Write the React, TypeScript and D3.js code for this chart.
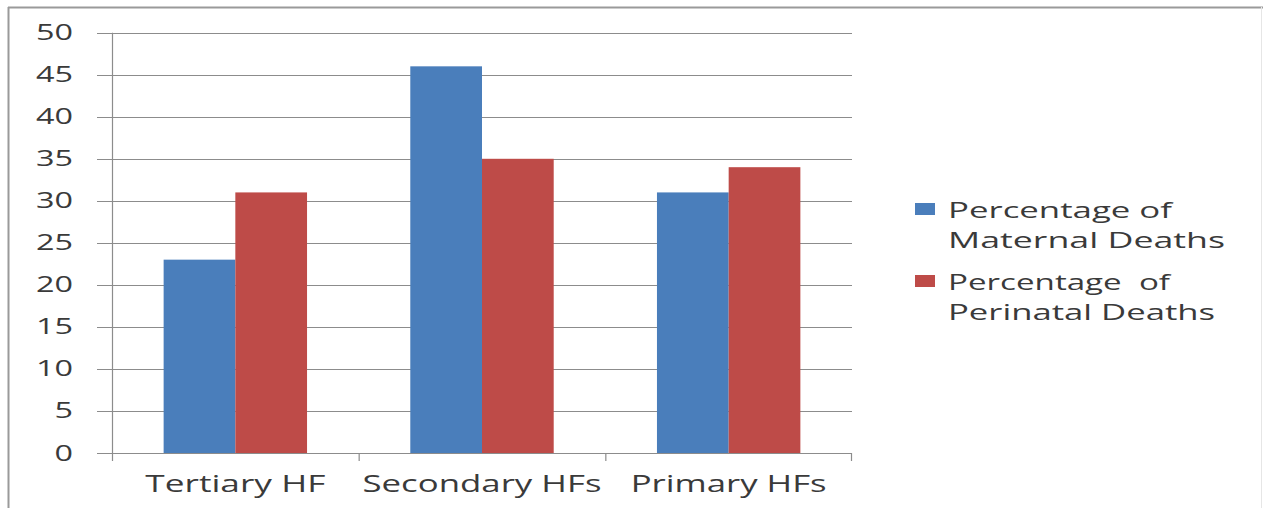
import React, { useEffect, useRef } from 'react';
import * as d3 from 'd3';

const categories = ['Tertiary HF', 'Secondary HFs', 'Primary HFs'];
const maternalDeaths = [23, 46, 31];
const perinatalDeaths = [31, 35, 34];
const seriesNames = [
  ['Percentage of', 'Maternal Deaths'],
  ['Percentage  of', 'Perinatal Deaths'],
];
const yTicks = [0, 5, 10, 15, 20, 25, 30, 35, 40, 45, 50];

const colors = ['#4a7ebb', '#be4b48'];

// measured label widths in the picture (the source font is wide)
const catWidths = [180, 239, 196];
const legendWidths = [[224, 277], [222, 267]];

const App: React.FC = () => {
  const svgRef = useRef<SVGSVGElement>(null);

  useEffect(() => {
    if (!svgRef.current) return;
    const svg = d3.select(svgRef.current);
    svg.selectAll('*').remove();

    const width = 1263;
    const height = 508;
    const left = 112;
    const right = 852;
    const top = 32.7;
    const bottom = 453;

    svg.append('rect').attr('width', width).attr('height', height).attr('fill', '#fff');

    // outer frame
    svg.append('line').attr('x1', 8).attr('x2', width).attr('y1', 7.5).attr('y2', 7.5)
      .attr('stroke', '#9a9a9a').attr('stroke-width', 2);
    svg.append('line').attr('x1', 8.5).attr('x2', 8.5).attr('y1', 7).attr('y2', height)
      .attr('stroke', '#9a9a9a').attr('stroke-width', 2);
    svg.append('line').attr('x1', 1261.5).attr('x2', 1261.5).attr('y1', 7).attr('y2', height)
      .attr('stroke', '#e6e6e6').attr('stroke-width', 1);

    const y = d3.scaleLinear().domain([0, 50]).range([bottom, top]);
    const x = d3.scaleBand().domain(categories).range([left, right]);
    const inner = d3.scaleBand().domain(['0', '1']).range([0, x.bandwidth()]).paddingOuter(0.72).paddingInner(0);

    const font = "'Open Sans', 'Liberation Sans', sans-serif";
    const textColor = '#3a3a3a';

    // gridlines
    svg.append('g').selectAll('line').data(yTicks).enter().append('line')
      .attr('x1', left - 15).attr('x2', right)
      .attr('y1', d => Math.round(y(d)) + 0.5).attr('y2', d => Math.round(y(d)) + 0.5)
      .attr('stroke', '#8c8c8c').attr('stroke-width', 1.2);

    // y labels
    svg.append('g').selectAll('text').data(yTicks).enter().append('text')
      .attr('x', 73).attr('y', d => y(d) + 7.5)
      .attr('text-anchor', 'end').attr('font-family', font).attr('font-size', 21)
      .attr('textLength', d => String(d).length * 18.5).attr('lengthAdjust', 'spacingAndGlyphs')
      .attr('fill', textColor).text(d => d);

    // bars
    const series = [maternalDeaths, perinatalDeaths];
    series.forEach((vals, si) => {
      svg.append('g').selectAll('rect').data(vals).enter().append('rect')
        .attr('x', (d, i) => (x(categories[i]) || 0) + (inner(String(si)) || 0))
        .attr('y', d => y(d))
        .attr('width', inner.bandwidth())
        .attr('height', d => bottom - y(d))
        .attr('fill', colors[si]);
    });

    // axes lines
    svg.append('line').attr('x1', left + 0.5).attr('x2', left + 0.5).attr('y1', top).attr('y2', bottom + 8)
      .attr('stroke', '#8c8c8c').attr('stroke-width', 1.2);
    svg.append('line').attr('x1', left).attr('x2', right).attr('y1', Math.round(bottom) + 0.5).attr('y2', Math.round(bottom) + 0.5)
      .attr('stroke', '#8c8c8c').attr('stroke-width', 1.2);
    svg.append('g').selectAll('line').data(categories.slice(1)).enter().append('line')
      .attr('x1', d => (x(d) || 0) + 0.5).attr('x2', d => (x(d) || 0) + 0.5)
      .attr('y1', bottom).attr('y2', bottom + 8)
      .attr('stroke', '#8c8c8c').attr('stroke-width', 1.2);
    svg.append('line').attr('x1', right - 0.5).attr('x2', right - 0.5).attr('y1', bottom).attr('y2', bottom + 8)
      .attr('stroke', '#8c8c8c').attr('stroke-width', 1.2);

    // category labels
    svg.append('g').selectAll('text').data(categories).enter().append('text')
      .attr('x', d => (x(d) || 0) + x.bandwidth() / 2).attr('y', 492)
      .attr('text-anchor', 'middle').attr('font-family', font).attr('font-size', 24)
      .attr('textLength', (d, i) => catWidths[i]).attr('lengthAdjust', 'spacingAndGlyphs')
      .attr('fill', textColor).text(d => d);

    // legend
    const lg = svg.append('g');
    seriesNames.forEach((lines, i) => {
      const baseY = 218 + i * 72;
      lg.append('rect').attr('x', 915).attr('y', baseY - 15).attr('width', 20).attr('height', 12)
        .attr('fill', colors[i]);
      lines.forEach((t, j) => {
        lg.append('text').attr('x', 948).attr('y', baseY + j * 30)
          .attr('font-family', font).attr('font-size', 22.5).attr('fill', textColor)
          .attr('textLength', legendWidths[i][j]).attr('lengthAdjust', 'spacingAndGlyphs')
          .attr('xml:space', 'preserve').style('white-space', 'pre').text(t);
      });
    });
  }, []);

  return (
    <svg
      ref={svgRef}
      width={1263}
      height={508}
      style={{ position: 'absolute', left: 0, top: 0, display: 'block' }}
    />
  );
};

export default App;
